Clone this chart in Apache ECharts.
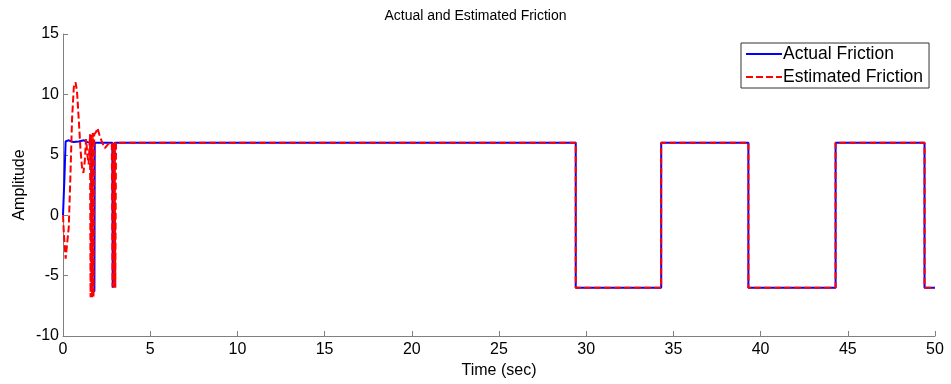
<!DOCTYPE html>
<html>
<head>
<meta charset="utf-8">
<script src="https://cdn.jsdelivr.net/npm/echarts@6/dist/echarts.min.js"></script>
<style>
    html, body {margin: 0; padding: 0; background: #fff;}
    #main {width: 951px; height: 384px;}
</style>
</head>
<body>
<div id="main"></div>
<script>
// values
let actualTime = [0, 0.02, 0.08, 0.15, 0.3, 0.6, 0.9, 1.2, 1.4, 1.62, 1.64, 1.8, 1.82, 2.83, 2.85, 2.95, 2.97,
    29.4, 29.4, 29.4, 34.3, 34.3, 34.3, 39.3, 39.3, 39.3, 44.3, 44.3, 44.3, 49.4, 49.4, 49.4, 50];
let actualValue = [0, 0, 3, 6.1, 6.2, 6.05, 6.1, 6.2, 6.05, 6.0, -6.3, -6.3, 6.0, 6.0, -6.0, -6.0, 6.0,
    6, 0, -6, -6, 0, 6, 6, 0, -6, -6, 0, 6, 6, 0, -6, -6];

let estTime = [0, 0.05, 0.15, 0.25, 0.33, 0.42, 0.52, 0.62, 0.72, 0.8, 0.9, 1.0, 1.1, 1.17, 1.25, 1.32, 1.4, 1.47,
    1.55, 1.58, 1.63, 1.67, 1.71, 1.75, 1.79, 1.83, 1.9, 1.98, 2.1, 2.25, 2.4, 2.6, 2.8, 2.84, 2.88, 2.92, 2.96, 3.0, 3.04,
    29.4, 29.4, 29.4, 34.3, 34.3, 34.3, 39.3, 39.3, 39.3, 44.3, 44.3, 44.3, 49.4, 49.4, 49.4, 50];
let estValue = [0, -1.5, -3.6, -3.5, -1, 3, 8, 10.6, 11, 10.3, 8, 5.5, 3.8, 3.5, 4.5, 6.3, 5, 4.2,
    6.7, -6.8, 6.7, -6.8, 6.8, -6.8, 6.7, 6.8, 6.9, 7.2, 6.6, 6.0, 5.55, 5.9, 6.0, -5.9, 6.0, -6.0, 6.0, -6.0, 6.0,
    6, 0, -6, -6, 0, 6, 6, 0, -6, -6, 0, 6, 6, 0, -6, -6];

let xTicks = {min: 0, max: 50, step: 5};
let yTicks = {min: -10, max: 15, step: 5};

function pairs(t, v) {
    let out = [];
    for (let i = 0; i < t.length; i++) {
        out.push([t[i], v[i]]);
    }
    return out;
}

var chart = echarts.init(document.getElementById("main"));
var font = "'Liberation Sans', Arial, sans-serif";
var axisGray = '#808080';

var option = {
    animation: false,
    title: {
        text: 'Actual and Estimated Friction',
        left: 'center',
        top: 4,
        textStyle: {fontFamily: font, fontSize: 14, fontWeight: 'normal', color: '#000'}
    },
    legend: {
        left: 741,
        top: 43,
        width: 190,
        orient: 'vertical',
        itemWidth: 36,
        itemHeight: 12,
        itemGap: 5,
        padding: [2, 6, 2, 4],
        borderColor: '#333',
        borderWidth: 1,
        borderRadius: 0,
        backgroundColor: '#fff',
        itemStyle: {opacity: 0},
        textStyle: {fontFamily: font, fontSize: 17.5, color: '#000', padding: [0, 0, 0, -4]},
        data: ['Actual Friction', 'Estimated Friction']
    },
    grid: {left: 63, right: 16, top: 34, bottom: 46, containLabel: false},
    xAxis: {
        type: 'value',
        min: xTicks.min,
        max: xTicks.max,
        interval: xTicks.step,
        name: 'Time (sec)',
        nameLocation: 'middle',
        nameGap: 27,
        nameMoveOverlap: false,
        nameTextStyle: {fontFamily: font, fontSize: 16, color: '#000'},
        axisLine: {onZero: false, lineStyle: {color: axisGray, width: 1}},
        axisTick: {inside: true, length: 5, lineStyle: {color: axisGray}},
        axisLabel: {fontFamily: font, fontSize: 16, color: '#000', margin: 6},
        splitLine: {show: false}
    },
    yAxis: {
        type: 'value',
        min: yTicks.min,
        max: yTicks.max,
        interval: yTicks.step,
        name: 'Amplitude',
        nameLocation: 'middle',
        nameGap: 35,
        nameMoveOverlap: false,
        nameTextStyle: {fontFamily: font, fontSize: 16, color: '#000'},
        axisLine: {show: true, onZero: false, lineStyle: {color: axisGray, width: 1}},
        axisTick: {show: true, inside: true, length: 5, lineStyle: {color: axisGray}},
        axisLabel: {fontFamily: font, fontSize: 16, color: '#000', margin: 4},
        splitLine: {show: false}
    },
    series: [
        {
            name: 'Actual Friction',
            type: 'line',
            data: pairs(actualTime, actualValue),
            showSymbol: false,
            symbol: 'none',
            z: 2,
            itemStyle: {color: '#0000ff'},
            lineStyle: {color: '#0000ff', width: 2}
        },
        {
            name: 'Estimated Friction',
            type: 'line',
            data: pairs(estTime, estValue),
            showSymbol: false,
            symbol: 'none',
            z: 3,
            itemStyle: {color: '#ff0000'},
            lineStyle: {color: '#ff0000', width: 2, type: [7, 3]}
        }
    ]
};

chart.setOption(option);
</script>
</body>
</html>
